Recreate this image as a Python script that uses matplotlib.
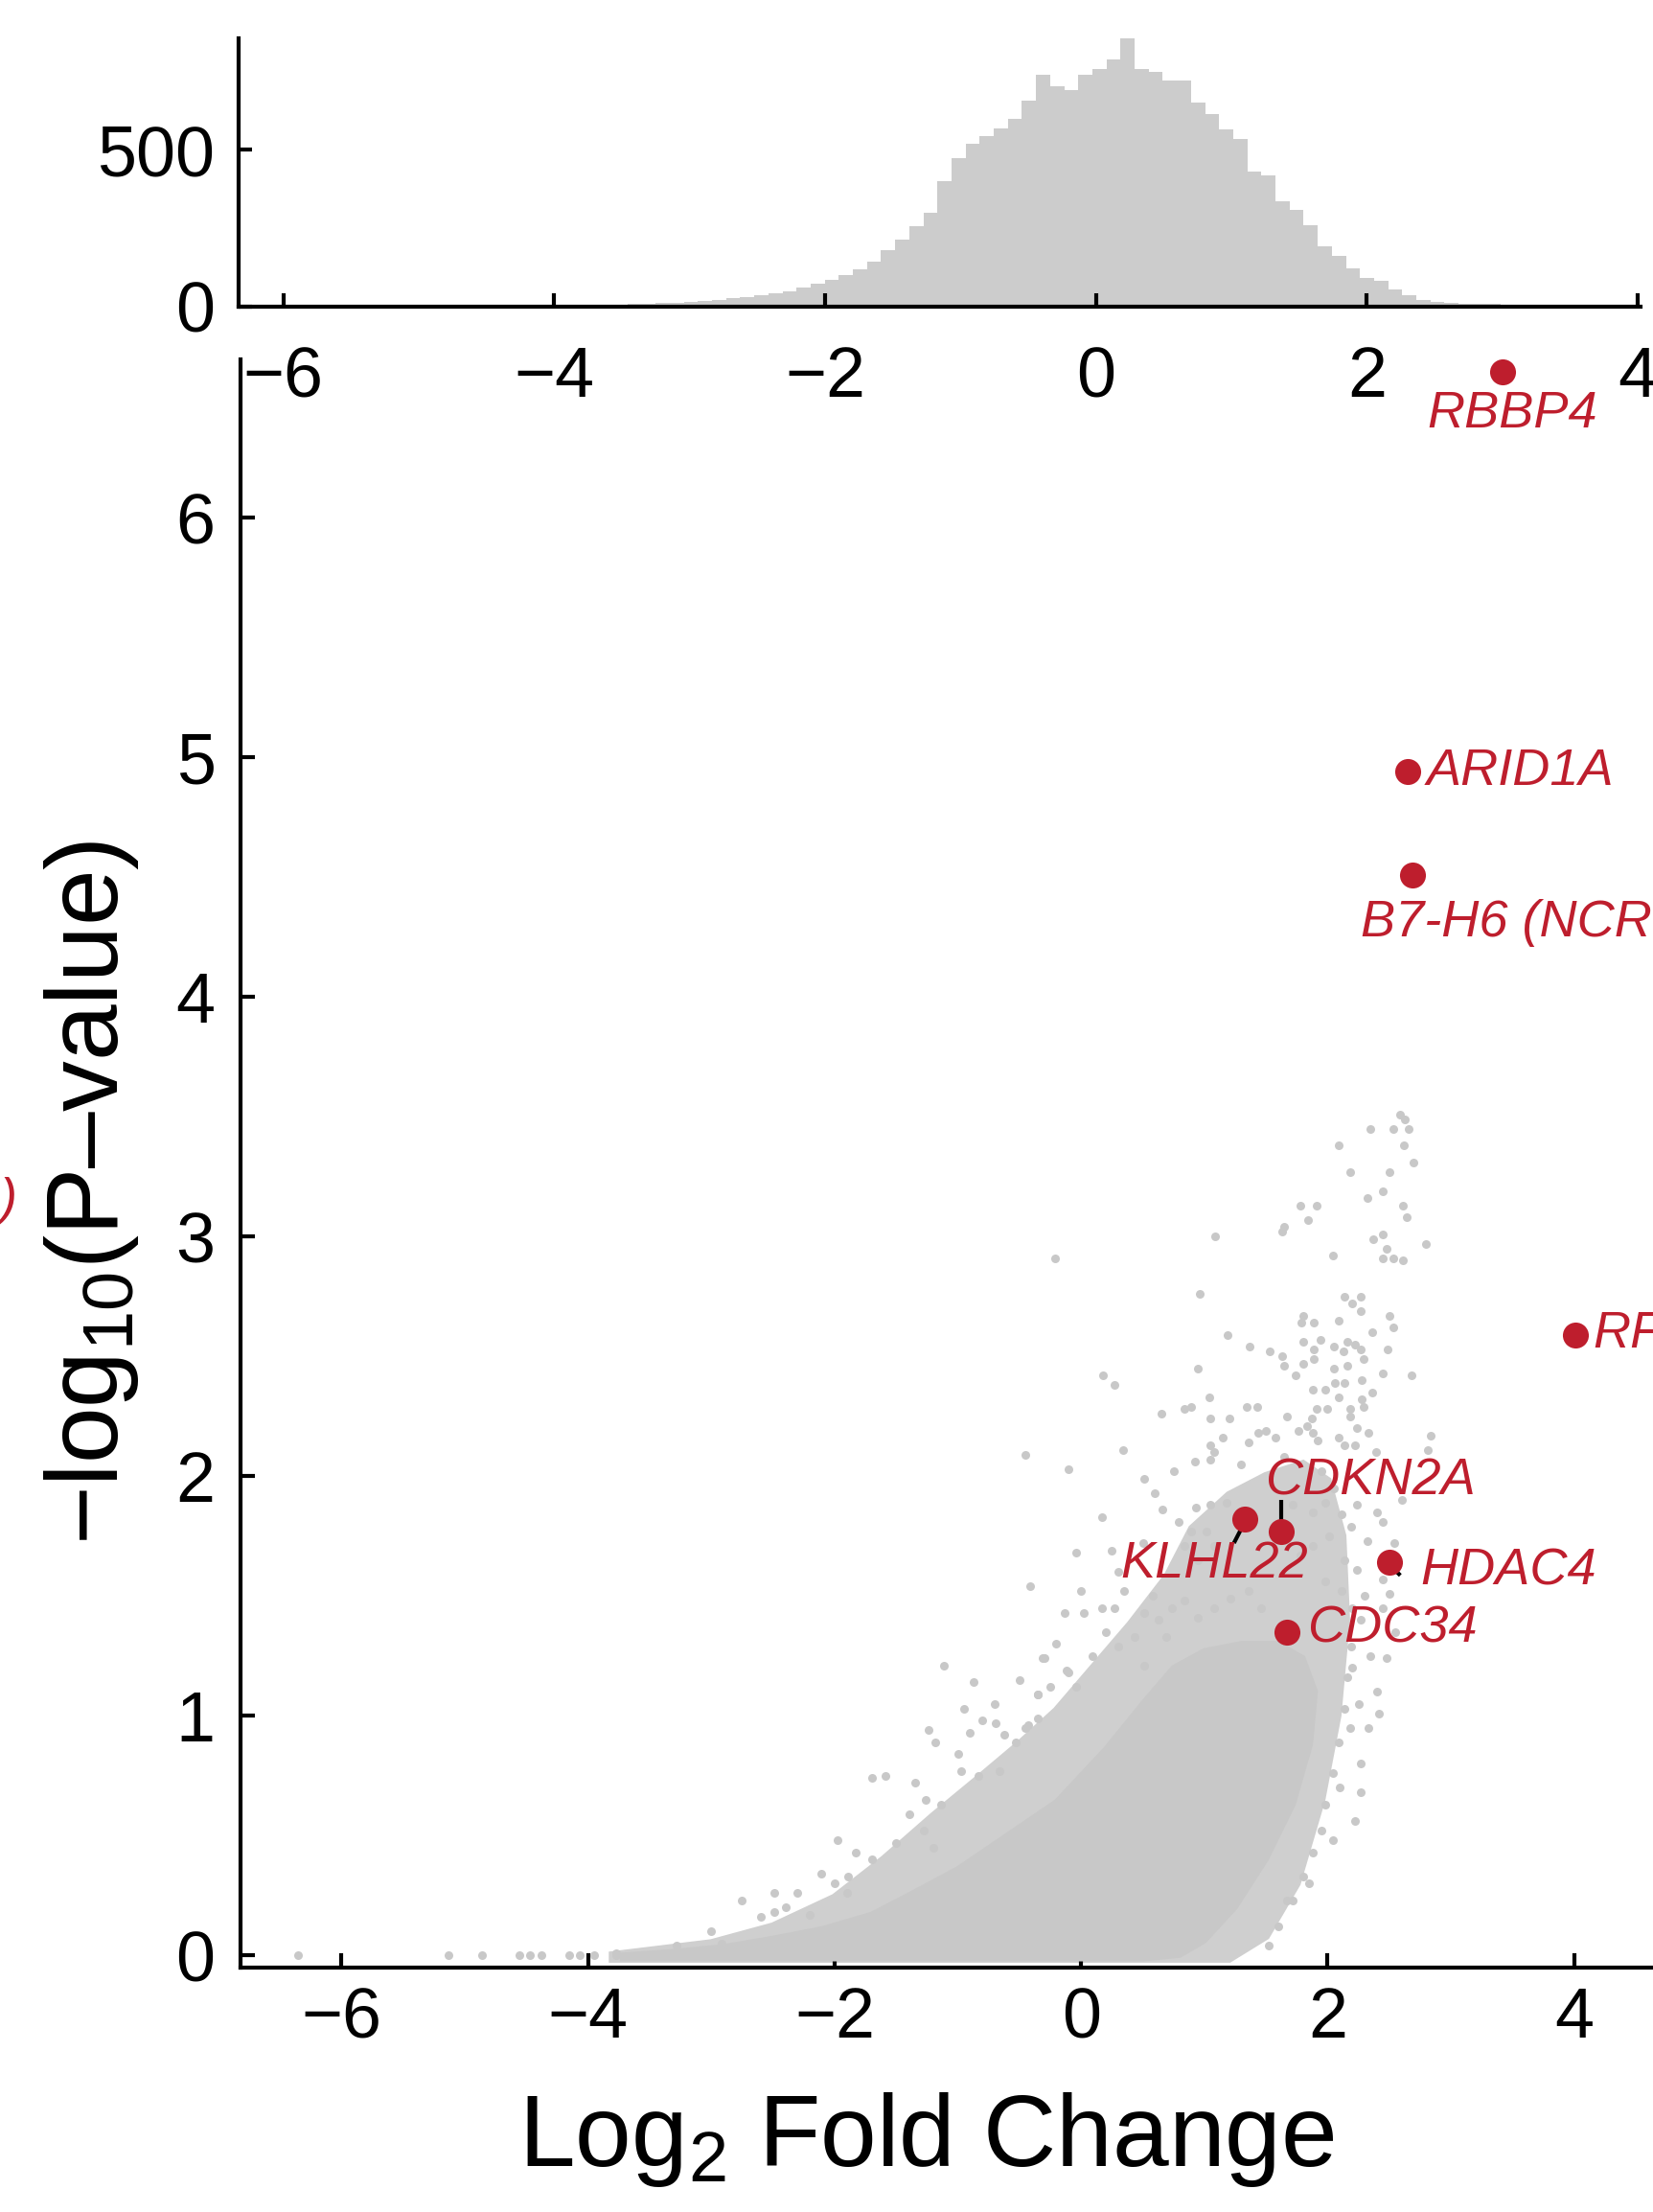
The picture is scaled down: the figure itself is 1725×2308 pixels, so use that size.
import numpy as np
import matplotlib
matplotlib.use('Agg')
import matplotlib.pyplot as plt

plt.rcParams['font.family'] = ['Liberation Sans', 'DejaVu Sans']
plt.rcParams['mathtext.fontset'] = 'custom'
plt.rcParams['mathtext.rm'] = 'Liberation Sans'
plt.rcParams['mathtext.it'] = 'Liberation Sans:italic'

GRAY = '#C8C8C8'
HIST_GRAY = '#CCCCCC'
HALO = '#CFCFCF'
RED = '#BE1E2D'

# ---------------- histogram of log2 fold change ----------------
hist_lo = -6.267
hist_bin = 0.104
hist_counts = [0, 1, 0, 0, 0, 0, 0, 1, 0, 1, 0, 1, 1, 0, 1, 2, 1, 2,
               2, 2, 3, 3, 4, 4, 5,
               6, 7, 8, 9, 11, 13, 15, 18, 22, 26, 30, 36, 42, 50, 60, 72, 85,
               100, 120, 145, 180, 215, 255, 300, 400, 473,
               520, 544, 569, 600, 658, 740, 703, 689, 740, 757, 788, 855, 757,
               747, 722, 722, 650, 613, 564, 533, 432, 419, 335, 308, 259, 191, 163,
               122, 91, 82, 56, 36, 20, 15, 12, 10, 9, 8, 7, 6, 5, 4, 3, 3, 2, 2, 1, 1, 1]
hist_xticks = [-6, -4, -2, 0, 2, 4]
hist_yticks = [0, 500]

# ---------------- volcano: dense core outline (log2FC, -log10 p) ----------------
dense_v = [-3.72, -3.3, -2.9, -2.5, -2.1, -1.7, -1.4, -1.0, -0.6, -0.2, 0.2, 0.5, 0.75,
           1.0, 1.3, 1.6, 1.8, 1.9, 1.86, 1.72, 1.5, 1.25, 1.0, 0.8, 0.5, -3.72]
dense_y = [0.0, 0.015, 0.035, 0.07, 0.11, 0.17, 0.25, 0.36, 0.5, 0.64, 0.86, 1.05, 1.2,
           1.27, 1.3, 1.3, 1.24, 1.1, 0.88, 0.63, 0.4, 0.2, 0.06, 0.0, -0.015, -0.015]
# semi-dense surrounding zone
halo_v = [-3.8, -3.0, -2.5, -2.0, -1.6, -1.2, -0.8, -0.5, -0.2, 0.1, 0.4, 0.7, 0.9, 1.2,
          1.5, 1.8, 2.0, 2.12, 2.15, 2.08, 1.95, 1.75, 1.5, 1.2, -3.8]
halo_y = [0.0, 0.05, 0.12, 0.24, 0.4, 0.58, 0.75, 0.88, 1.02, 1.2, 1.38, 1.58, 1.78, 1.92,
          2.0, 2.05, 1.98, 1.75, 1.4, 1.0, 0.65, 0.3, 0.08, -0.015, -0.015]

# scattered individual genes
sparse_pts = [
    (2.59, 3.51), (2.63, 3.49), (2.35, 3.45), (2.53, 3.45), (2.66, 3.45), (2.09, 3.38), (2.62, 3.38),
    (2.70, 3.31), (2.18, 3.27), (2.50, 3.27), (2.45, 3.19), (2.32, 3.16), (2.61, 3.13), (2.64, 3.08),
    (1.78, 3.13), (1.91, 3.13), (1.84, 3.07), (1.65, 3.04), (1.63, 3.02), (1.09, 3.00), (2.37, 2.99),
    (2.45, 3.01), (2.48, 2.95), (2.80, 2.97), (2.04, 2.92), (2.45, 2.91), (2.53, 2.91), (2.61, 2.90),
    (-0.21, 2.91), (0.96, 2.76), (2.14, 2.75), (2.27, 2.75), (2.20, 2.72), (2.27, 2.69), (1.80, 2.67),
    (1.79, 2.64), (1.89, 2.64), (2.09, 2.65), (2.50, 2.67), (2.53, 2.62), (2.36, 2.60), (1.19, 2.59),
    (1.37, 2.54), (1.53, 2.52), (1.63, 2.50), (1.65, 2.46), (1.80, 2.56), (1.94, 2.57), (1.89, 2.53),
    (1.89, 2.49), (1.80, 2.47), (2.05, 2.54), (2.13, 2.52), (2.16, 2.56), (2.22, 2.55), (2.27, 2.53),
    (2.29, 2.49), (2.49, 2.53), (1.74, 2.42), (2.05, 2.45), (2.16, 2.46), (2.45, 2.43), (2.68, 2.42),
    (0.95, 2.45), (0.18, 2.42), (0.27, 2.38), (2.06, 2.39), (2.14, 2.39), (1.98, 2.36), (1.88, 2.36),
    (2.09, 2.33), (2.28, 2.40), (2.36, 2.35), (2.28, 2.32), (2.29, 2.29), (1.04, 2.33), (0.84, 2.28),
    (0.89, 2.29), (0.65, 2.26), (1.05, 2.24), (1.34, 2.29), (1.43, 2.29), (1.67, 2.25), (1.91, 2.28),
    (2.00, 2.28), (2.18, 2.28), (2.18, 2.25), (1.87, 2.24), (1.83, 2.21), (1.76, 2.19), (1.88, 2.18),
    (1.92, 2.15), (2.24, 2.20), (2.33, 2.18), (1.44, 2.18), (1.50, 2.19), (1.58, 2.16), (1.15, 2.16),
    (1.36, 2.14), (1.05, 2.13), (1.08, 2.10), (0.92, 2.06), (1.05, 2.07), (0.34, 2.11), (-0.45, 2.09),
    (-0.10, 2.03), (0.51, 1.99), (2.84, 2.17), (2.81, 2.11), (2.39, 2.10), (2.09, 2.16), (2.14, 2.13),
    (2.22, 2.13),
    (0.17, 1.83), (0.66, 1.86), (0.93, 1.87), (1.05, 1.88), (1.18, 1.89), (0.79, 1.81), (0.89, 1.77),
    (1.02, 1.77), (1.72, 1.88), (1.88, 1.85), (1.98, 1.89), (2.11, 1.84), (2.24, 1.88), (2.19, 1.79),
    (2.32, 1.73), (2.45, 1.81), (2.54, 1.72), (2.01, 1.75), (1.88, 1.71), (1.78, 1.67), (-0.04, 1.68),
    (0.25, 1.69), (0.84, 1.71), (0.95, 1.65), (1.08, 1.71), (2.14, 1.65), (2.24, 1.61), (2.45, 1.57),
    (2.50, 1.51), (-0.41, 1.54), (-0.13, 1.43), (0.02, 1.43), (0.17, 1.45), (0.27, 1.45), (0.51, 1.43),
    (0.58, 1.50), (0.63, 1.40), (0.74, 1.45), (0.84, 1.48), (0.95, 1.41), (1.08, 1.45), (1.21, 1.49),
    (1.36, 1.52), (1.46, 1.45), (1.98, 1.56), (2.11, 1.52), (2.27, 1.40), (2.48, 1.24), (2.42, 1.01),
    (2.27, 0.68), (2.22, 0.56), (2.04, 0.48), (1.67, 0.23), (1.52, 0.04), (-0.30, 1.24), (-0.12, 1.19),
    (-0.04, 1.12), (-0.35, 1.09), (-0.25, 1.12), (-0.45, 0.95), (-0.53, 0.89), (0.09, 1.25), (0.30, 1.29),
    (0.43, 1.33), (0.51, 1.21), (0.69, 1.33), (2.19, 1.29), (2.16, 1.16), (2.14, 1.03), (2.09, 0.89),
    (2.04, 0.76), (1.98, 0.63), (1.88, 0.43), (1.80, 0.33), (1.72, 0.23),
    (2.45, 1.45), (2.55, 1.35), (2.35, 1.25), (2.60, 1.90), (2.40, 1.85), (2.30, 1.50), (2.20, 1.20),
    (2.40, 1.10), (2.33, 0.95), (2.27, 0.80),
    (-1.11, 1.21), (-0.87, 1.14), (-0.95, 1.03), (-1.24, 0.94), (-1.18, 0.89), (-0.80, 0.98),
    (-0.69, 0.97), (-0.62, 0.92), (-0.31, 1.24), (-0.35, 1.09), (-0.35, 0.99), (-0.43, 0.96),
    (-1.70, 0.74), (-1.59, 0.75), (-1.98, 0.48), (-1.83, 0.43), (-2.11, 0.34), (-1.89, 0.33),
    (-1.90, 0.26), (-2.49, 0.26), (-2.49, 0.18), (-2.75, 0.23), (-2.20, 0.17), (-2.92, 0.05),
    (-3.28, 0.04), (-3.77, 0.01), (-1.26, 0.65), (-1.39, 0.59), (-1.28, 0.52), (-1.14, 0.63),
    (-0.97, 0.77), (-0.83, 0.75), (-0.66, 0.77),
    (-1.5, 0.47), (-1.7, 0.40), (-2.3, 0.26), (-2.6, 0.16), (-3.0, 0.10), (-1.0, 0.84), (-0.7, 1.05),
    (-0.5, 1.15), (-0.2, 1.30), (0.0, 1.52), (0.3, 1.60), (0.5, 1.72), (0.6, 1.93), (0.75, 2.02),
    (1.2, 2.24), (1.3, 2.05), (1.65, 2.08), (1.95, 2.02), (2.05, 1.95), (2.2, 1.45), (2.25, 1.05),
    (2.18, 0.95), (2.1, 0.70), (1.95, 0.52), (1.85, 0.30), (1.6, 0.12), (-1.35, 0.72), (-0.9, 0.93),
    (-0.1, 1.18), (0.35, 1.52), (0.2, 1.35), (-2.0, 0.30), (-2.4, 0.20), (-1.2, 0.45),
    (-6.35, 0.0), (-5.13, 0.0), (-4.86, 0.0), (-4.56, 0.0), (-4.47, 0.0), (-4.38, 0.0),
    (-4.15, 0.0), (-4.07, 0.0), (-3.95, 0.0), (-3.77, 0.0),
]
sparse_v = [p[0] for p in sparse_pts]
sparse_y = [p[1] for p in sparse_pts]

# highlighted genes
genes = ['RBBP4', 'ARID1A', 'B7-H6 (NCR3LG1)', 'RFWD2', 'CDKN2A', 'KLHL22', 'HDAC4', 'CDC34']
gene_v = [3.42, 2.65, 2.69, 4.01, 1.62, 1.33, 2.50, 1.67]
gene_y = [6.61, 4.94, 4.51, 2.59, 1.77, 1.82, 1.64, 1.35]

main_xticks = [-6, -4, -2, 0, 2, 4]
main_yticks = [0, 1, 2, 3, 4, 5, 6]

# ---------------- layout ----------------
W, H = 1725, 2308
fig = plt.figure(figsize=(W / 100, H / 100), dpi=100)

def frac(x0, y_top, x1, y_bot):
    return [x0 / W, 1 - y_bot / H, (x1 - x0) / W, (y_bot - y_top) / H]

axh = fig.add_axes(frac(249, 40, 1712, 320))
axm = fig.add_axes(frac(251, 375, 1725, 2053))

# histogram
edges = hist_lo + hist_bin * np.arange(len(hist_counts) + 1)
axh.stairs(hist_counts, edges, fill=True, color=HIST_GRAY, linewidth=0)
axh.set_xlim(-6.33, 4.02)
axh.set_ylim(0, 855)
axh.set_xticks(hist_xticks)
axh.set_yticks(hist_yticks)
for s in ['top', 'right']:
    axh.spines[s].set_visible(False)
for s in ['left', 'bottom']:
    axh.spines[s].set_linewidth(3)
axh.tick_params(axis='both', direction='in', length=10, width=3, labelsize=53)
axh.tick_params(axis='x', pad=29)
axh.tick_params(axis='y', pad=18)
axh.patch.set_alpha(0)

# volcano
axm.fill(halo_v, halo_y, color=HALO, linewidth=6, edgecolor=HALO, zorder=1)
axm.fill(dense_v, dense_y, color=GRAY, linewidth=4, edgecolor=GRAY, zorder=2)
axm.scatter(sparse_v, sparse_y, s=42, color=GRAY, linewidths=0, zorder=3)

# connector lines
conn = {'CDKN2A': ((1.62, 1.62), (1.80, 1.90)),
        'KLHL22': ((1.31, 1.24), (1.79, 1.72)),
        'HDAC4': ((2.52, 2.59), (1.62, 1.585))}
for g, (xs, ys) in conn.items():
    axm.plot(xs, ys, color='black', lw=3, zorder=4, solid_capstyle='butt')

axm.scatter(gene_v, gene_y, s=380, color=RED, linewidths=0, zorder=5)

label_pos = {'RBBP4': (3.50, 6.43, 'center'),
             'ARID1A': (2.80, 4.94, 'left'),
             'B7-H6 (NCR3LG1)': (2.27, 4.31, 'left'),
             'RFWD2': (4.15, 2.59, 'left'),
             'CDKN2A': (1.49, 1.98, 'left'),
             'KLHL22': (1.08, 1.63, 'center'),
             'HDAC4': (2.75, 1.60, 'left'),
             'CDC34': (1.83, 1.36, 'left')}
for g in genes:
    lx, ly, ha = label_pos[g]
    axm.text(lx, ly, g, color=RED, fontsize=39, style='italic', ha=ha, va='center',
             zorder=6, clip_on=False)

axm.set_xlim(-6.82, 4.64)
axm.set_ylim(-0.052, 6.66)
axm.set_xticks(main_xticks)
axm.set_yticks(main_yticks)
for s in ['top', 'right']:
    axm.spines[s].set_visible(False)
for s in ['left', 'bottom']:
    axm.spines[s].set_linewidth(3)
    axm.spines[s].set_zorder(7)
axm.tick_params(axis='both', direction='in', length=11, width=3, labelsize=53)
axm.tick_params(axis='x', pad=14)
axm.tick_params(axis='y', pad=19)
axm.patch.set_alpha(0)

fig.text(967 / W, 1 - 2232 / H, 'Log$_2$ Fold Change', fontsize=76, ha='center', va='center')
fig.text(96 / W, 1 - 1244 / H, '\u2212log$_{10}$(P\u2013value)', fontsize=76, rotation=90,
         ha='center', va='center')
# cut-off label from neighbouring panel
fig.text(17 / W, 1 - 1253 / H, ')', fontsize=39, style='italic', color=RED, ha='right', va='center')

fig.savefig('out.png', dpi=100)
